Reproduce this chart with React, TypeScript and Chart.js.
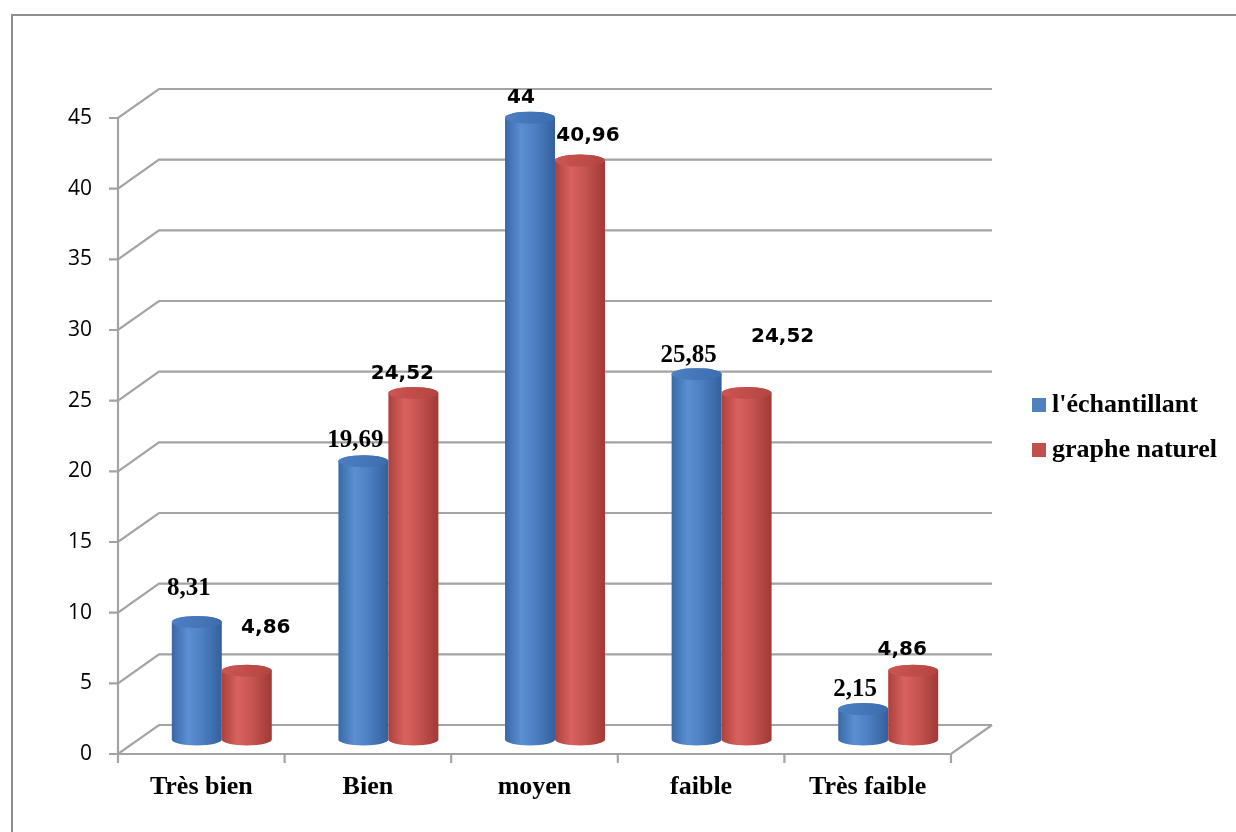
import React, { useEffect, useRef } from "react";
import { Chart, registerables } from "chart.js";

Chart.register(...registerables);

// Categories and series values
const categories = ["Très bien", "Bien", "moyen", "faible", "Très faible"];
const seriesNames = ["l'échantillant", "graphe naturel"];
const echantillant = [8.31, 19.69, 44, 25.85, 2.15];
const grapheNaturel = [4.86, 24.52, 40.96, 24.52, 4.86];
const yMin = 0;
const yMax = 45;
const yStep = 5;

// Value-label placement (pixel offsets from the top of each cylinder) and font kind
const labelOffsets = [
  [[-8, -34], [-8, -21], [-9, -20], [-8, -19], [-8, -20]],
  [[19, -43], [-11, -19], [8, -25], [36, -56], [-11, -21]],
];
const labelSerif = [
  [true, true, false, true, true],
  [false, false, false, false, false],
];

// 3D depth of the plot box
const DX = 41;
const DY = -29;
const GRID = "#a3a3a3";

const bodyStops = [
  [["#3a68a6", 0], ["#5a8fd2", 0.32], ["#4c80c2", 0.6], ["#33609c", 1]],
  [["#ad403c", 0], ["#d8625e", 0.32], ["#c75450", 0.6], ["#a03935", 1]],
];
const topColors = [
  ["#4d80c4", "#3c6cad"],
  ["#cc5652", "#b4443f"],
];
const legendColors = ["#4f81bd", "#c0504d"];

const fmt = (v: number) => String(v).replace(".", ",");

const box3d = {
  id: "box3d",
  beforeDatasetsDraw(chart: any) {
    const { ctx, chartArea, scales } = chart;
    const { left, right, top, bottom } = chartArea;
    const y = scales.y;
    ctx.save();
    ctx.strokeStyle = GRID;
    ctx.lineWidth = 2.2;
    ctx.lineCap = "butt";
    ctx.lineJoin = "miter";
    // gridlines on side and back walls, with tick marks
    y.ticks.forEach((t: any) => {
      const yf = y.getPixelForValue(t.value);
      ctx.beginPath();
      ctx.moveTo(left - 9, yf);
      ctx.lineTo(left, yf);
      ctx.lineTo(left + DX, yf + DY);
      ctx.lineTo(right + DX, yf + DY);
      ctx.stroke();
    });
    // front vertical axis
    ctx.beginPath();
    ctx.moveTo(left, top);
    ctx.lineTo(left, bottom);
    ctx.stroke();
    // floor front edge and right edge
    ctx.beginPath();
    ctx.moveTo(left, bottom);
    ctx.lineTo(right, bottom);
    ctx.lineTo(right + DX, bottom + DY);
    ctx.stroke();
    // category tick marks
    const n = categories.length;
    for (let k = 0; k <= n; k++) {
      const xx = left + ((right - left) * k) / n;
      ctx.beginPath();
      ctx.moveTo(xx, bottom);
      ctx.lineTo(xx, bottom + 9);
      ctx.stroke();
    }

    // cylinders
    const y0 = y.getPixelForValue(0) + DY / 2;
    chart.data.datasets.forEach((ds: any, d: number) => {
      const meta = chart.getDatasetMeta(d);
      meta.data.forEach((el: any, i: number) => {
        const cx = el.x + DX / 2;
        const rx = el.width / 2;
        const ry = 6;
        const yt = y.getPixelForValue(ds.data[i]) + DY / 2;
        const g = ctx.createLinearGradient(cx - rx, 0, cx + rx, 0);
        bodyStops[d].forEach(([c, p]: any) => g.addColorStop(p, c));
        ctx.beginPath();
        ctx.moveTo(cx - rx, yt);
        ctx.lineTo(cx - rx, y0);
        ctx.ellipse(cx, y0, rx, ry, 0, Math.PI, 0, true);
        ctx.lineTo(cx + rx, yt);
        ctx.ellipse(cx, yt, rx, ry, 0, 0, Math.PI, true);
        ctx.closePath();
        ctx.fillStyle = g;
        ctx.fill();
        const tg = ctx.createLinearGradient(cx - rx, yt - ry, cx + rx, yt + ry);
        tg.addColorStop(0, topColors[d][0]);
        tg.addColorStop(1, topColors[d][1]);
        ctx.beginPath();
        ctx.ellipse(cx, yt, rx, ry, 0, 0, Math.PI * 2);
        ctx.fillStyle = tg;
        ctx.fill();
      });
    });
    ctx.restore();
    return false;
  },
  afterDraw(chart: any) {
    const { ctx, scales } = chart;
    const y = scales.y;
    ctx.save();
    // outer frame
    ctx.strokeStyle = "#8f8f8f";
    ctx.lineWidth = 2;
    ctx.beginPath();
    ctx.moveTo(12, 840);
    ctx.lineTo(12, 15);
    ctx.lineTo(1240, 15);
    ctx.stroke();

    // value labels
    ctx.fillStyle = "#000";
    ctx.textAlign = "center";
    ctx.textBaseline = "middle";
    chart.data.datasets.forEach((ds: any, d: number) => {
      const meta = chart.getDatasetMeta(d);
      meta.data.forEach((el: any, i: number) => {
        const cx = el.x + DX / 2;
        const yt = y.getPixelForValue(ds.data[i]) + DY / 2;
        const [ox, oy] = labelOffsets[d][i];
        ctx.font = labelSerif[d][i]
          ? "bold 25px 'Liberation Serif'"
          : "bold 20px 'DejaVu Sans'";
        ctx.fillText(fmt(ds.data[i]), cx + ox, yt + oy);
      });
    });

    // legend
    const lx = 1032;
    const ly = [405, 450];
    ctx.textAlign = "left";
    ctx.font = "bold 26px 'Liberation Serif'";
    seriesNames.forEach((name, k) => {
      ctx.fillStyle = legendColors[k];
      ctx.fillRect(lx, ly[k] - 7, 14, 14);
      ctx.fillStyle = "#000";
      ctx.fillText(name, lx + 20, ly[k]);
    });
    ctx.restore();
  },
};

export default function App() {
  const ref = useRef<HTMLCanvasElement | null>(null);
  useEffect(() => {
    if (!ref.current) return;
    const chart = new Chart(ref.current, {
      type: "bar",
      data: {
        labels: categories,
        datasets: [
          { label: seriesNames[0], data: echantillant, backgroundColor: legendColors[0] },
          { label: seriesNames[1], data: grapheNaturel, backgroundColor: legendColors[1] },
        ],
      },
      options: {
        responsive: false,
        animation: false,
        devicePixelRatio: 1,
        layout: { padding: { left: 0, top: 118, right: 285, bottom: 0 } },
        datasets: { bar: { categoryPercentage: 0.6, barPercentage: 1 } },
        plugins: { legend: { display: false }, tooltip: { enabled: false } },
        scales: {
          x: {
            grid: { display: false, drawTicks: false },
            border: { display: false },
            ticks: {
              color: "#000",
              font: { family: "'Liberation Serif'", size: 26, weight: "bold" },
              padding: 18,
              maxRotation: 0,
              autoSkip: false,
            },
            afterFit: (s: any) => {
              s.height = 78;
            },
          },
          y: {
            min: yMin,
            max: yMax,
            grid: { display: false, drawTicks: false },
            border: { display: false },
            ticks: {
              stepSize: yStep,
              color: "#000",
              font: { family: "'Open Sans'", size: 21 },
              padding: 26,
            },
            afterFit: (s: any) => {
              s.width = 118;
            },
          },
        },
      } as any,
      plugins: [box3d],
    });
    return () => chart.destroy();
  }, []);
  return (
    <div style={{ position: "fixed", left: 0, top: 0, width: 1236, height: 832, background: "#fff" }}>
      <canvas ref={ref} width={1236} height={832} style={{ display: "block" }} />
    </div>
  );
}
